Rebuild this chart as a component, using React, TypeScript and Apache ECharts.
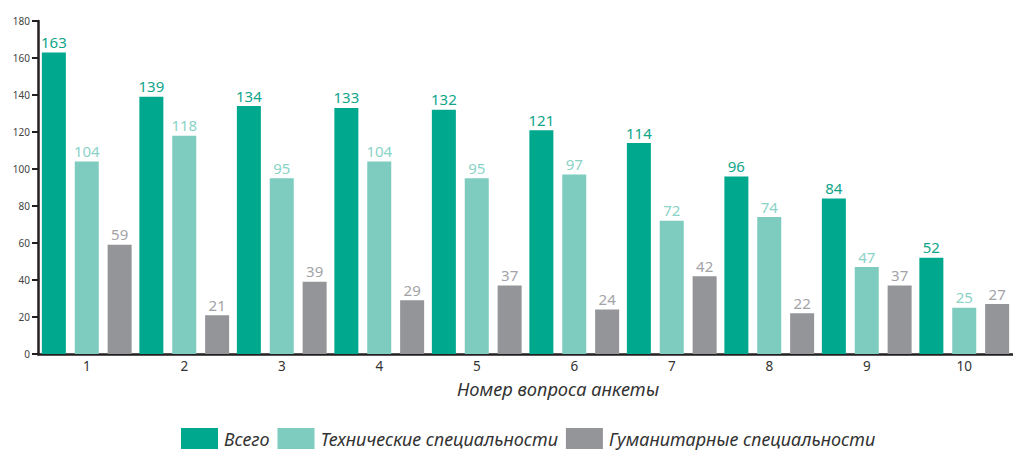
import React, { useEffect, useRef } from "react";
import * as echarts from "echarts";

const categories = ["1", "2", "3", "4", "5", "6", "7", "8", "9", "10"];
const seriesNames = ["Всего", "Технические специальности", "Гуманитарные специальности"];
const total = [163, 139, 134, 133, 132, 121, 114, 96, 84, 52];
const technical = [104, 118, 95, 104, 95, 97, 72, 74, 47, 25];
const humanities = [59, 21, 39, 29, 37, 24, 42, 22, 37, 27];
const yTicks = { min: 0, max: 180, interval: 20 };
const axisName = "Номер вопроса анкеты";

const barColors = ["#00a88e", "#7dccbf", "#939598"];
const labelColors = ["#0fa58a", "#8ad3c7", "#a3a3a7"];
const FONT = "'Noto Sans', 'Open Sans', sans-serif";

export default function App() {
  const ref = useRef<HTMLDivElement>(null);
  useEffect(() => {
    if (!ref.current) return;
    const chart = echarts.init(ref.current, undefined, { renderer: "svg" });
    const datasets = [total, technical, humanities];
    chart.setOption({
      animation: false,
      grid: { left: 38, right: 0, top: 21, bottom: 99, containLabel: false },
      legend: {
        left: 181,
        top: 428,
        padding: 0,
        itemWidth: 37,
        itemHeight: 21,
        itemGap: 8,
        icon: "rect",
        data: seriesNames,
        textStyle: { fontFamily: FONT, fontStyle: "italic", fontSize: 18, lineHeight: 20, color: "#333", padding: [0, 0, 0, 1] },
      },
      xAxis: {
        type: "category",
        data: categories,
        axisLine: { lineStyle: { color: "#231f20", width: 2.5 } },
        axisTick: { inside: true, length: 10, lineStyle: { color: "#231f20", width: 2 } },
        axisLabel: { fontFamily: FONT, fontSize: 13.5, lineHeight: 13, color: "#333", margin: 5 },
      },
      yAxis: {
        type: "value",
        min: yTicks.min,
        max: yTicks.max,
        interval: yTicks.interval,
        splitLine: { show: false },
        axisLine: { show: true, lineStyle: { color: "#231f20", width: 2.5 } },
        axisTick: { show: true, length: 6, lineStyle: { color: "#231f20", width: 2 } },
        axisLabel: { fontFamily: FONT, fontSize: 10, color: "#444", margin: 8 },
      },
      graphic: [
        {
          type: "text",
          left: 457,
          top: 379,
          style: { text: axisName, fontFamily: FONT, fontStyle: "italic", fontSize: 18.3, lineHeight: 18, fill: "#333" },
        },
      ],
      series: datasets.map((d, i) => ({
        name: seriesNames[i],
        type: "bar",
        data: d,
        barWidth: 24,
        barGap: "37%",
        itemStyle: { color: barColors[i] },
        label: {
          show: true,
          position: "top",
          distance: 3,
          fontFamily: FONT,
          fontSize: 15,
          color: labelColors[i],
        },
      })),
    });
    return () => chart.dispose();
  }, []);
  return <div ref={ref} style={{ position: "absolute", left: 0, top: 0, width: 1013, height: 453 }} />;
}
